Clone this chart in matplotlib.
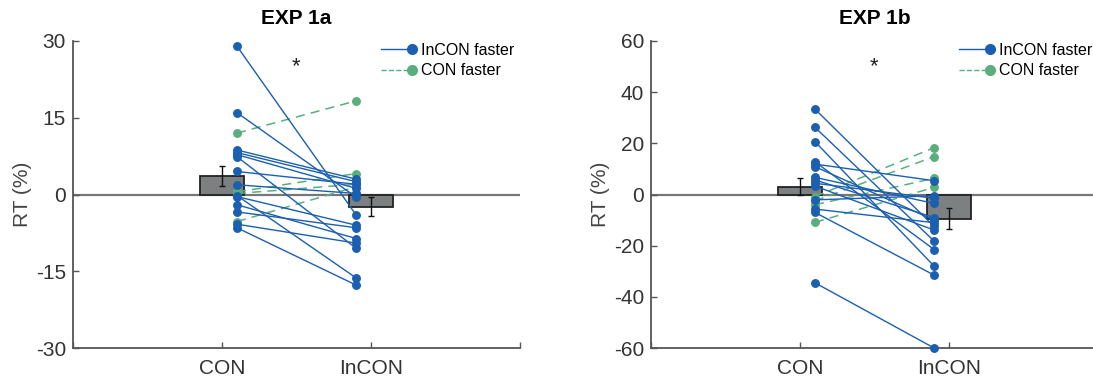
import matplotlib
matplotlib.use("Agg")
import matplotlib.pyplot as plt
from matplotlib.lines import Line2D
from matplotlib.legend_handler import HandlerBase

plt.rcParams['font.family'] = ['Liberation Sans', 'DejaVu Sans']

# ---------------- data ----------------
categories = ["CON", "InCON"]

# EXP 1a
a_titles = "EXP 1a"
a_blue_con = [29.0, 16.0, 8.7, 8.2, 7.8, 7.4, 4.5, 1.9, -0.2, -0.4, -2.0, -3.4, -5.8, -6.5]
a_blue_incon = [-4.0, -0.5, 3.0, 2.5, 1.2, -10.5, 2.0, 0.2, -16.3, -6.0, -8.6, -6.5, -9.5, -17.7]
a_green_con = [12.0, 0.5, 0.2, -5.3]
a_green_incon = [18.3, 4.1, 2.0, 1.5]
a_bar_mean = [3.6, -2.4]
a_bar_se = [2.0, 1.85]
a_yticks = [-30, -15, 0, 15, 30]

# EXP 1b
b_titles = "EXP 1b"
b_blue_con = [33.4, 26.3, 20.7, 12.8, 11.9, 10.9, 6.7, 5.7, 4.4, 3.3, -2.1, -5.7, -7.0, -34.5]
b_blue_incon = [-12.5, -18.2, -28.0, -21.5, 5.4, -10.0, -3.5, -9.0, -1.5, -13.9, -0.5, -11.0, -31.5, -60.0]
b_green_con = [-0.8, -2.5, -4.0, -10.9]
b_green_incon = [18.3, 14.8, 6.3, 2.8]
b_bar_mean = [3.1, -9.4]
b_bar_se = [3.4, 4.1]
b_yticks = [-60, -40, -20, 0, 20, 40, 60]

legend_labels = ["InCON faster", "CON faster"]

BLUE = '#1b5fb0'
GREEN = '#5aae7e'
AXC = '#555555'


class EndMarkerHandler(HandlerBase):
    def create_artists(self, legend, orig_handle, xdescent, ydescent,
                       width, height, fontsize, trans):
        y = height / 2.0 - ydescent
        x0 = -xdescent
        x1 = width - xdescent
        line = Line2D([x0, x1], [y, y], color=orig_handle.get_color(),
                      lw=orig_handle.get_linewidth(),
                      ls=orig_handle.get_linestyle())
        mk = Line2D([x1], [y], ls='none', marker='o',
                    ms=orig_handle.get_markersize(),
                    mfc=orig_handle.get_color(), mec=orig_handle.get_color())
        line.set_transform(trans)
        mk.set_transform(trans)
        return [line, mk]


def panel(ax, title, bcon, binc, gcon, ginc, means, ses, yticks, star_y):
    xpos = [1, 2]
    ax.axhline(0, color='#777777', lw=1.6, zorder=1)
    ax.bar(xpos, means, width=0.3, color='#7d8080', edgecolor='#222222',
           linewidth=1.3, zorder=2)
    ax.errorbar(xpos, means, yerr=ses, fmt='none', ecolor='#111111',
                elinewidth=1.0, capsize=2.5, capthick=1.0, zorder=3)
    px = [1.1, 1.9]
    for c, i in zip(gcon, ginc):
        ax.plot(px, [c, i], color=GREEN, lw=1.1, ls=(0, (6, 4)),
                marker='o', ms=5.4, mec=GREEN, mfc=GREEN, zorder=4,
                clip_on=False)
    for c, i in zip(bcon, binc):
        ax.plot(px, [c, i], color=BLUE, lw=1.0, marker='o', ms=5.4,
                mec=BLUE, mfc=BLUE, zorder=5, clip_on=False)
    ax.set_xlim(0, 3)
    ax.set_ylim(yticks[0], yticks[-1])
    ax.set_yticks(yticks)
    ax.set_yticklabels([str(t) for t in yticks])
    ax.set_xticks([0, 1, 2, 3])
    ax.set_xticklabels(['', categories[0], categories[1], ''])
    for s in ['top', 'right']:
        ax.spines[s].set_visible(False)
    for s in ['left', 'bottom']:
        ax.spines[s].set_color(AXC)
        ax.spines[s].set_linewidth(1.3)
    ax.tick_params(direction='in', length=4, width=1.0, color=AXC,
                   labelsize=15, labelcolor='#333333', pad=5)
    ax.tick_params(axis='x', pad=8)
    ax.set_ylabel('RT (%)', fontsize=15, color='#444444', labelpad=3)
    ax.set_title(title, fontsize=15, fontweight='bold', pad=12)
    ax.text(1.5, star_y, '*', ha='center', va='center', fontsize=16,
            color='#222222')
    h1 = Line2D([], [], color=BLUE, lw=1.0, marker='o', ms=7.0)
    h2 = Line2D([], [], color=GREEN, lw=1.0, ls=(0, (4, 3)), marker='o', ms=7.0)
    ax.legend([h1, h2], legend_labels, loc='upper left',
              bbox_to_anchor=(0.688, 0.995), frameon=False, fontsize=11.5,
              handlelength=2.0, handletextpad=0.55, borderpad=0,
              labelspacing=0.35, borderaxespad=0,
              handler_map={h1: EndMarkerHandler(), h2: EndMarkerHandler()})


fig = plt.figure(figsize=(10.93, 3.80), dpi=100)
ax1 = fig.add_axes([73 / 1093, 32 / 380, 447 / 1093, 307 / 380])
ax2 = fig.add_axes([651 / 1093, 32 / 380, 447 / 1093, 307 / 380])

panel(ax1, a_titles, a_blue_con, a_blue_incon, a_green_con, a_green_incon,
      a_bar_mean, a_bar_se, a_yticks, 25)
panel(ax2, b_titles, b_blue_con, b_blue_incon, b_green_con, b_green_incon,
      b_bar_mean, b_bar_se, b_yticks, 50)

fig.savefig('out.png', dpi=100)
